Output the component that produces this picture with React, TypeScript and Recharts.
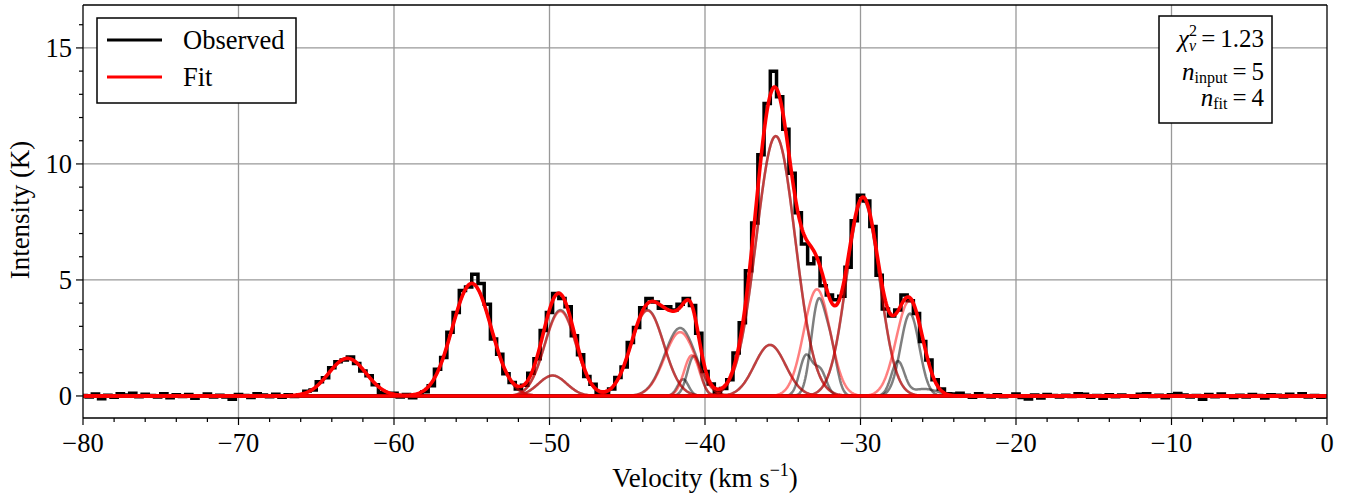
import { LineChart, Line, XAxis, YAxis, ReferenceLine } from "recharts";

const WIDTH = 1351;
const HEIGHT = 494;
const SERIF = '"Liberation Serif", "DejaVu Serif", serif';

const VEL_MIN = -80;
const VEL_MAX = 0;
const T_MIN = -0.95;
const T_MAX = 16.85;

// observed spectrum, one value per 0.4 km/s channel starting at -80 km/s
const CHANNEL_START = -80;
const CHANNEL_WIDTH = 0.4;
const observed = [
  // -80.0 .. -66.4
  0.02, -0.05, 0.08, -0.12, 0.03, -0.06, 0.1, 0.04, 0.12, -0.03,
  0.07, 0.02, -0.04, 0.09, -0.08, 0.05, -0.02, 0.06, -0.1, 0.01,
  0.08, -0.04, 0.03, -0.05, -0.14, 0.06, 0.02, -0.07, 0.09, 0.04,
  -0.03, 0.07, -0.06, 0.05, -0.02,
  // -66.0 .. -24.0
  0.04, 0.2, 0.26, 0.61, 0.78, 1.22, 1.47, 1.55, 1.68, 1.4,
  1.08, 0.87, 0.48, 0.14, 0.05, 0.12, -0.05, 0.06, -0.08, 0.02,
  0.18, 0.44, 1.15, 1.66, 2.75, 3.6, 4.55, 4.7, 5.25, 4.85,
  3.95, 2.45, 1.8, 0.96, 0.58, 0.3, 0.46, 0.98, 1.6, 2.82,
  3.6, 4.42, 4.2, 3.85, 2.6, 1.78, 0.84, 0.5, 0.12, 0.05,
  0.3, 0.8, 1.25, 2.3, 2.95, 3.8, 4.2, 4.05, 3.78, 3.85,
  3.7, 3.95, 4.2, 3.9, 2.7, 1.05, 0.52, 0.15, 0.32, 0.7,
  1.85, 3.15, 5.4, 7.45, 10.4, 12.6, 14.0, 12.9, 11.5, 9.6,
  7.9, 6.55, 5.7, 5.95, 4.75, 4.35, 4.15, 4.3, 5.55, 7.55,
  8.65, 8.4, 7.3, 5.2, 3.75, 3.45, 3.7, 4.35, 4.1, 3.55,
  2.35, 1.55, 0.7, 0.3, 0.1, 0.08,
  // -23.6 .. 0.0
  0.12, 0.03, -0.06, 0.09, 0.02, -0.04, 0.05, -0.03, 0.01, 0.08,
  -0.07, -0.13, 0.04, -0.09, 0.06, 0.02, -0.05, 0.03, -0.02, 0.1,
  0.07, -0.06, 0.02, -0.1, 0.05, -0.03, 0.04, 0.01, -0.06, 0.07,
  0.09, -0.02, 0.03, -0.08, 0.05, 0.11, 0.04, -0.05, 0.02, -0.14,
  0.06, -0.03, 0.08, 0.01, -0.07, 0.03, -0.04, 0.06, 0.02, -0.09,
  0.05, 0.03, -0.05, 0.07, 0.01, 0.09, -0.04, 0.02, -0.06, -0.03,
];

// fitted Gaussian components (red): amplitude K, centre km/s, sigma km/s
const fitAmp = [1.62, 4.85, 3.65, 0.88, 3.68, 2.75, 1.75, 11.2, 2.2, 4.6, 8.55, 4.1];
const fitCen = [-63.0, -55.0, -49.3, -49.8, -43.7, -41.6, -40.85, -35.45, -35.82, -32.8, -29.84, -26.85];
const fitSig = [1.2, 1.25, 1.0, 0.9, 1.05, 1.0, 0.5, 1.25, 1.0, 0.85, 1.05, 0.85];

// input components (grey); inputCurve = which grey line each one is summed into
const inputAmp = [1.62, 4.85, 3.7, 0.88, 3.7, 2.93, 0.72, 1.72, 11.2, 2.2, 1.7, 1.1, 3.95, 1.9, 8.45, 1.45, 0.3, 3.55];
const inputCen = [-63.0, -55.0, -49.3, -49.8, -43.7, -41.6, -41.41, -40.71, -35.45, -35.82, -33.52, -32.6, -32.73, -31.9, -29.84, -27.6, -25.9, -26.82];
const inputSig = [1.2, 1.25, 1.0, 0.9, 1.05, 1.0, 0.35, 0.42, 1.25, 1.0, 0.4, 0.4, 0.45, 0.4, 1.05, 0.42, 0.9, 0.6];
const inputCurve = [0, 1, 2, 3, 4, 5, 6, 7, 8, 9, 10, 10, 11, 11, 12, 13, 13, 14];

const xTicks: number[] = [];
for (let v = VEL_MIN; v <= VEL_MAX; v += 2) xTicks.push(v);
const yTicks: number[] = [];
for (let t = 0; t <= 16; t += 1) yTicks.push(t);
const xGrid = [-70, -60, -50, -40, -30, -20, -10];
const yGrid = [0, 5, 10, 15];

const gauss = (v: number, a: number, c: number, s: number) =>
  a * Math.exp(-((v - c) * (v - c)) / (2 * s * s));

const nGrey = Math.max(...inputCurve) + 1;

// model curves on a fine velocity grid
const FINE_STEP = 0.05;
const modelRows: any[] = [];
for (let i = 0; i <= (VEL_MAX - VEL_MIN) / FINE_STEP; i++) {
  const v = Math.round((VEL_MIN + i * FINE_STEP) * 100) / 100;
  const row: any = { v, fit: 0 };
  fitAmp.forEach((a, k) => {
    const y = gauss(v, a, fitCen[k], fitSig[k]);
    row[`f${k}`] = y;
    row.fit += y;
  });
  for (let g = 0; g < nGrey; g++) row[`g${g}`] = 0;
  inputAmp.forEach((a, k) => {
    row[`g${inputCurve[k]}`] += gauss(v, a, inputCen[k], inputSig[k]);
  });
  modelRows.push(row);
}

const obsRows = observed.map((t, i) => ({
  v: Math.round((CHANNEL_START + i * CHANNEL_WIDTH) * 10) / 10,
  obs: t,
}));

const fmt = (n: number) => (n < 0 ? `\u2212${Math.abs(n)}` : `${n}`);

function XTick({ x, y, payload }: any) {
  const v = payload.value;
  const major = v % 10 === 0;
  return (
    <g>
      <line x1={x} x2={x} y1={y} y2={y + (major ? 7 : 4)} stroke="#000" strokeWidth={1.2} />
      {major && (
        <text x={x} y={y + 34} textAnchor="middle" fontSize={26.5} fontFamily={SERIF} fill="#000">
          {fmt(v)}
        </text>
      )}
    </g>
  );
}

function YTick({ x, y, payload }: any) {
  const t = payload.value;
  const major = t % 5 === 0;
  return (
    <g>
      <line x1={x - (major ? 7 : 4)} x2={x} y1={y} y2={y} stroke="#000" strokeWidth={1.2} />
      {major && (
        <text x={x - 11} y={y + 9} textAnchor="end" fontSize={26.5} fontFamily={SERIF} fill="#000">
          {fmt(t)}
        </text>
      )}
    </g>
  );
}

export default function App() {
  return (
    <div style={{ position: "absolute", left: 0, top: 0, width: WIDTH, height: HEIGHT, background: "#fff" }}>
      <LineChart width={WIDTH} height={HEIGHT} data={modelRows} margin={{ top: 5, right: 24, bottom: 0, left: 23 }}>
        <XAxis
          type="number"
          dataKey="v"
          domain={[VEL_MIN, VEL_MAX]}
          ticks={xTicks}
          interval={0}
          allowDataOverflow
          tickSize={0}
          tickMargin={0}
          tickLine={false}
          tick={<XTick />}
          axisLine={{ stroke: "#000", strokeWidth: 1.3 }}
          height={76}
        />
        <YAxis
          type="number"
          domain={[T_MIN, T_MAX]}
          ticks={yTicks}
          interval={0}
          allowDataOverflow
          tickSize={0}
          tickMargin={0}
          tickLine={false}
          tick={<YTick />}
          axisLine={{ stroke: "#000", strokeWidth: 1.3 }}
          width={60}
        />
        {xGrid.map((v) => (
          <ReferenceLine key={`gx${v}`} x={v} stroke="#999" strokeWidth={1.3} />
        ))}
        {yGrid.map((t) => (
          <ReferenceLine key={`gy${t}`} y={t} stroke="#999" strokeWidth={1.3} />
        ))}
        <Line
          data={obsRows}
          dataKey="obs"
          type="step"
          stroke="#000"
          strokeWidth={3.5}
          dot={false}
          activeDot={false}
          isAnimationActive={false}
        />
        {Array.from({ length: nGrey }, (_, g) => (
          <Line
            key={`g${g}`}
            dataKey={`g${g}`}
            type="linear"
            stroke="#000"
            strokeOpacity={0.5}
            strokeWidth={2.5}
            dot={false}
            activeDot={false}
            isAnimationActive={false}
          />
        ))}
        {fitAmp.map((_, k) => (
          <Line
            key={`f${k}`}
            dataKey={`f${k}`}
            type="linear"
            stroke="#ff0000"
            strokeOpacity={0.5}
            strokeWidth={2.5}
            dot={false}
            activeDot={false}
            isAnimationActive={false}
          />
        ))}
        <Line
          dataKey="fit"
          type="linear"
          stroke="#ff0000"
          strokeWidth={3.6}
          dot={false}
          activeDot={false}
          isAnimationActive={false}
        />
        <ReferenceLine y={T_MAX} stroke="#000" strokeWidth={1.3} />
        <ReferenceLine x={VEL_MAX} stroke="#000" strokeWidth={1.3} />
      </LineChart>

      <svg
        width={WIDTH}
        height={HEIGHT}
        style={{ position: "absolute", left: 0, top: 0, pointerEvents: "none" }}
        fontFamily={SERIF}
      >
        {/* legend */}
        <rect x={97} y={18} width={199} height={85} fill="#fff" stroke="#000" strokeWidth={1.5} />
        <line x1={107} x2={162} y1={40} y2={40} stroke="#000" strokeWidth={3} />
        <text x={183} y={49} fontSize={26.5} fill="#000">Observed</text>
        <line x1={107} x2={162} y1={77} y2={77} stroke="#ff0000" strokeWidth={3} />
        <text x={183} y={86} fontSize={26.5} fill="#000">Fit</text>

        {/* fit statistics */}
        <rect x={1159} y={16} width={113} height={107} fill="#fff" stroke="#000" strokeWidth={1.5} />
        <text x={1264} y={47} fontSize={25} textAnchor="end" fill="#000">
          <tspan fontStyle="italic">χ</tspan>
          <tspan fontSize={16} dy={-11}>2</tspan>
          <tspan fontSize={16} fontStyle="italic" dx={-8} dy={15}>ν</tspan>
          <tspan dy={-4}>{"\u2009=\u20091.23"}</tspan>
        </text>
        <text x={1264} y={80} fontSize={25} textAnchor="end" fill="#000">
          <tspan fontStyle="italic">n</tspan>
          <tspan fontSize={16} dy={3}>input</tspan>
          <tspan dy={-3}>{"\u2009=\u20095"}</tspan>
        </text>
        <text x={1264} y={106} fontSize={25} textAnchor="end" fill="#000">
          <tspan fontStyle="italic">n</tspan>
          <tspan fontSize={16} dy={3}>fit</tspan>
          <tspan dy={-3}>{"\u2009=\u20094"}</tspan>
        </text>

        {/* axis titles */}
        <text x={705} y={487} fontSize={27} textAnchor="middle" fill="#000">
          Velocity (km s<tspan fontSize={18} dy={-11}>{"\u22121"}</tspan>
          <tspan dy={11}>)</tspan>
        </text>
        <text
          x={0}
          y={0}
          fontSize={27}
          textAnchor="middle"
          fill="#000"
          transform="translate(29 210) rotate(-90)"
        >
          Intensity (K)
        </text>
      </svg>
    </div>
  );
}
